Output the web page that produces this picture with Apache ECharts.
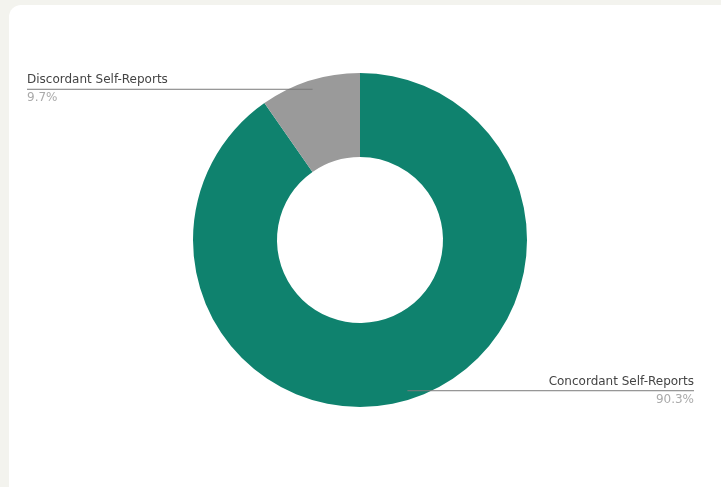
<!DOCTYPE html>
<html lang="en">
<head>
    <meta charset="UTF-8">
    <title>Self-Reports</title>
    <script src="https://cdn.jsdelivr.net/npm/echarts@6/dist/echarts.min.js"></script>
    <style>
        html, body {
            margin: 0;
            padding: 0;
            width: 721px;
            height: 487px;
            overflow: hidden;
            background: #f3f3ee;
        }

        .card {
            position: absolute;
            left: 9px;
            top: 5px;
            width: 730px;
            height: 510px;
            background: #fff;
            border-radius: 12px;
        }

        #chart {
            position: absolute;
            left: 0;
            top: 0;
            width: 721px;
            height: 487px;
        }
    </style>
</head>
<body>
<div class="card"></div>
<div id="chart"></div>
<script>
    // data
    var categories = ['Concordant Self-Reports', 'Discordant Self-Reports']
    var shares = [90.3, 9.7]
    var colors = ['#0f826e', '#9a9a9a']

    var pieData = categories.map((name, idx) => ({name: name, value: shares[idx]}))

    // run the label line on under the whole text, out to its far edge
    function stretchLine (params) {
        var pts = params.labelLinePoints
        if (!pts || !pts.length) return {}
        var rect = params.labelRect
        var last = pts[pts.length - 1]
        var far = last[0] >= rect.x + rect.width / 2 ? rect.x : rect.x + rect.width
        var newPts = pts.map(p => [p[0], p[1]])
        newPts[newPts.length - 1] = [far, last[1]]
        return {labelLinePoints: newPts}
    }

    var chart = echarts.init(document.getElementById('chart'))
    var option = {
        animation: false,
        color: colors,
        series: [{
            // the donut itself
            type: 'pie',
            center: [360, 240],
            radius: [83, 167],
            startAngle: 90,
            silent: true,
            label: {show: false},
            labelLine: {show: false},
            data: pieData
        }, {
            // labels only, anchored a bit inside the outer edge
            type: 'pie',
            z: 5,
            center: [360, 240],
            radius: [83, 158],
            startAngle: 90,
            silent: true,
            itemStyle: {color: 'transparent'},
            label: {
                show: true,
                alignTo: 'edge',
                edgeDistance: 27,
                formatter: '{n|{b}}\n{p|{d}%}',
                rich: {
                    n: {
                        fontFamily: 'DejaVu Sans',
                        fontSize: 12,
                        color: '#444',
                        lineHeight: 18
                    },
                    p: {
                        fontFamily: 'DejaVu Sans',
                        fontSize: 12,
                        color: '#aaa',
                        lineHeight: 18
                    }
                }
            },
            labelLine: {
                show: true,
                length: 0,
                length2: 0,
                lineStyle: {color: '#7a7a7a', width: 1}
            },
            labelLayout: stretchLine,
            data: pieData
        }]
    }
    chart.setOption(option)
</script>
</body>
</html>
